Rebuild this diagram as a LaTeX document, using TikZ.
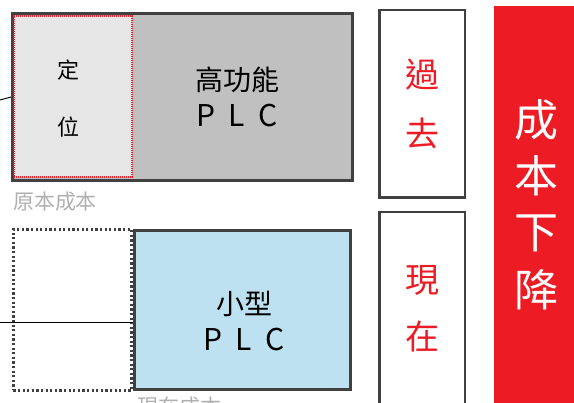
\documentclass[tikz,border=0pt]{standalone}
\usepackage{fontspec}
\newfontfamily\cjk{Noto Sans CJK TC}
\usetikzlibrary{positioning}
\definecolor{framegray}{HTML}{404040}
\definecolor{boxgray}{HTML}{C0C0C0}
\definecolor{lightgray}{HTML}{E6E6E6}
\definecolor{plcblue}{HTML}{BDE1F0}
\definecolor{costred}{HTML}{ED1C24}
\definecolor{notegray}{HTML}{B0B0B0}

\begin{document}
\begin{tikzpicture}[x=1pt,y=-1pt]
  \tikzset{
    plcbox/.style={draw=framegray, line width=3pt, anchor=north west, inner sep=0pt},
    timebox/.style={draw=framegray, line width=2.5pt, fill=white, anchor=north west, inner sep=0pt,
      minimum width=85.5pt},
    char/.style={font=\cjk\fontsize{#1}{#1}\selectfont, inner sep=0pt},
  }
  \useasboundingbox (0,0) rectangle (574,403);
    % Top Row: old cost
    \node [plcbox, fill=boxgray, minimum width=340pt, minimum height=167pt] (high-plc) at (11,12) {};
    \node [anchor=north west, fill=lightgray, draw=costred, line width=2.2pt,
      dash pattern=on 1.2pt off 0.8pt,
      minimum width=118pt, minimum height=161pt, inner sep=0pt] (position) at (13,15) {};
    \node [char=22] (position-a) at (68,70) {定};
    \node [char=22] (position-b) at (68,127) {位};
    \node [char=28] (high-plc-a) at (237,80) {高功能};
    \node [char=30] (high-plc-b) at (237,116) {P\hspace{13pt}L\hspace{13pt}C};
    \node [char=21, text=notegray] (old-cost) at (55,202) {原本成本};
    \coordinate (left-top) at (0,100);
    \draw[line width=1pt] (left-top) -- (high-plc.west);
    % Bottom Row: new cost
    \node [anchor=north west, draw=framegray, line width=2.8pt, dash pattern=on 2.2pt off 2.4pt,
      minimum width=118pt, minimum height=161pt, inner sep=0pt] (removed) at (12,228) {};
    \node [plcbox, fill=plcblue, minimum width=216pt, minimum height=159pt] (small-plc) at (133,229) {};
    \node [char=28] (small-plc-a) at (244,304) {小型};
    \node [char=30] (small-plc-b) at (244,340) {P\hspace{13pt}L\hspace{13pt}C};
    \node [char=21, text=notegray, anchor=north west] (new-cost) at (137,397) {現在成本};
    \coordinate (left-bottom) at (0,323);
    \draw[line width=1pt] (left-bottom) -- (left-bottom -| small-plc.west);
    % Right Column
    \node [timebox, minimum height=187.5pt] (past) at (378,9) {};
    \node [char=34, text=costred] (past-a) at (422,75) {過};
    \node [char=34, text=costred] (past-b) at (422,133) {去};
    \node [timebox, minimum height=200pt] (now) at (378,211) {};
    \node [char=34, text=costred] (now-a) at (422,280) {現};
    \node [char=34, text=costred] (now-b) at (422,337) {在};
    \node [anchor=north west, fill=costred, minimum width=80pt, minimum height=400pt, inner sep=0pt]
      (cost-down) at (494,6) {};
    \node [char=44, text=white] (cost-a) at (536,120) {成};
    \node [char=44, text=white] (cost-b) at (536,176) {本};
    \node [char=44, text=white] (cost-c) at (536,233) {下};
    \node [char=44, text=white] (cost-d) at (536,290) {降};
\end{tikzpicture}
\end{document}
